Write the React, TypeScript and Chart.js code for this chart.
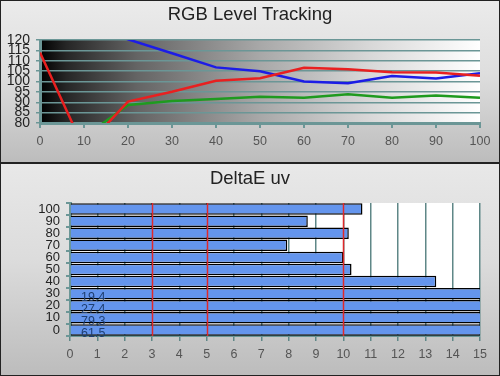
import React, { useEffect, useRef } from 'react';
import { Chart, registerables } from 'chart.js';

Chart.register(...registerables);

// ---------- data ----------
const levelSteps = [0, 10, 20, 30, 40, 50, 60, 70, 80, 90, 100];
const redLevels = [114, 67.7, 90.3, 95.1, 100.4, 101.6, 106.6, 105.9, 104.4, 104.3, 102.8];
const greenLevels = [66, 73.2, 88.7, 90.6, 91.6, 92.7, 92.2, 93.8, 92.2, 93.2, 92.2];
const blueLevels = [135, 130, 120.3, 113.6, 106.8, 104.9, 100, 99.2, 102.6, 101.5, 104];
const levelMin = 80;
const levelMax = 120;
const levelStep = 5;

const deltaCategories = ['0', '10', '20', '30', '40', '50', '60', '70', '80', '90', '100'];
const deltaValues = [61.5, 79.3, 27.4, 19.4, 13.4, 10.3, 10.0, 7.95, 10.2, 8.7, 10.7];
const deltaLimits = [3, 5, 10];
const deltaMin = 0;
const deltaMax = 15;

const FONT = "'Liberation Sans', Arial, Helvetica, sans-serif";
const TEAL = '#6b9696';

const levelBackground = {
  id: 'levelBackground',
  beforeDraw(chart: any) {
    const { ctx, chartArea: a } = chart;
    const g = ctx.createLinearGradient(a.left, 0, a.right, 0);
    g.addColorStop(0, '#000000');
    g.addColorStop(0.06, '#262626');
    g.addColorStop(0.22, '#646464');
    g.addColorStop(0.5, '#a8a8a8');
    g.addColorStop(0.75, '#d8d8d8');
    g.addColorStop(1, '#ffffff');
    ctx.save();
    ctx.fillStyle = g;
    ctx.fillRect(a.left, a.top, a.right - a.left, a.bottom - a.top);
    ctx.restore();
  },
};

const deltaBackground = {
  id: 'deltaBackground',
  beforeDraw(chart: any) {
    const { ctx, chartArea: a } = chart;
    ctx.save();
    ctx.fillStyle = '#ffffff';
    ctx.fillRect(a.left, a.top, a.right - a.left, a.bottom - a.top);
    ctx.restore();
  },
};

const deltaOverlay = {
  id: 'deltaOverlay',
  afterDatasetsDraw(chart: any) {
    const { ctx, chartArea: a, scales } = chart;
    const xs = scales.x;
    ctx.save();
    ctx.strokeStyle = '#e0282a';
    ctx.lineWidth = 1.5;
    deltaLimits.forEach((v) => {
      const px = Math.round(xs.getPixelForValue(v)) + 0.5;
      ctx.beginPath();
      ctx.moveTo(px, a.top);
      ctx.lineTo(px, a.bottom);
      ctx.stroke();
    });
    const meta = chart.getDatasetMeta(0);
    ctx.fillStyle = '#1f3f72';
    ctx.font = `12.5px ${FONT}`;
    ctx.textAlign = 'center';
    ctx.textBaseline = 'middle';
    deltaValues.forEach((v, i) => {
      if (v > deltaMax) {
        const bar = meta.data[i];
        ctx.fillText(v.toFixed(1), xs.getPixelForValue(0.85), bar.y + 3.5);
      }
    });
    ctx.restore();
  },
};

function LevelChart() {
  const ref = useRef<HTMLCanvasElement>(null);
  useEffect(() => {
    const mk = (vals: number[]) => levelSteps.map((x, i) => ({ x, y: vals[i] }));
    const chart = new Chart(ref.current!, {
      type: 'line',
      data: {
        datasets: [
          { data: mk(redLevels), borderColor: '#e82020', borderWidth: 2.5, pointRadius: 0, tension: 0 },
          { data: mk(greenLevels), borderColor: '#1f9a1f', borderWidth: 2.5, pointRadius: 0, tension: 0 },
          { data: mk(blueLevels), borderColor: '#1c1ce6', borderWidth: 2.5, pointRadius: 0, tension: 0 },
        ],
      },
      options: {
        responsive: false,
        animation: false,
        events: [],
        layout: { padding: { top: 40, right: 20, left: 0, bottom: 0 } },
        plugins: { legend: { display: false }, tooltip: { enabled: false }, title: { display: false } },
        scales: {
          x: {
            type: 'linear',
            min: 0,
            max: 100,
            afterFit: (s: any) => { s.height = 40; },
            ticks: { stepSize: 10, autoSkip: false, maxRotation: 0, color: '#555', font: { family: FONT, size: 12.5 }, padding: 6 },
            grid: { drawOnChartArea: false, drawTicks: true, tickLength: 5, color: TEAL, lineWidth: 2 },
            border: { display: true, color: TEAL, width: 3 },
          },
          y: {
            min: levelMin,
            max: levelMax,
            afterFit: (s: any) => { s.width = 40; },
            ticks: { stepSize: levelStep, autoSkip: false, color: '#222', font: { family: FONT, size: 14, lineHeight: 1 }, padding: 6 },
            grid: { drawOnChartArea: true, drawTicks: true, tickLength: 4, color: TEAL, lineWidth: 1.5 },
            border: { display: true, color: TEAL, width: 3 },
          },
        },
      },
      plugins: [levelBackground],
    } as any);
    return () => chart.destroy();
  }, []);
  return <canvas ref={ref} width={500} height={163} style={{ position: 'absolute', left: 0, top: 0 }} />;
}

function DeltaChart() {
  const ref = useRef<HTMLCanvasElement>(null);
  useEffect(() => {
    const chart = new Chart(ref.current!, {
      type: 'bar',
      data: {
        labels: deltaCategories,
        datasets: [
          {
            data: deltaValues,
            backgroundColor: '#6495ed',
            borderColor: '#000000',
            borderWidth: 1.5,
            barPercentage: 1,
            categoryPercentage: 0.95,
          },
        ],
      },
      options: {
        indexAxis: 'y',
        responsive: false,
        animation: false,
        events: [],
        layout: { padding: { top: 39, right: 20, left: 0, bottom: 0 } },
        plugins: { legend: { display: false }, tooltip: { enabled: false }, title: { display: false } },
        scales: {
          x: {
            min: deltaMin,
            max: deltaMax,
            afterFit: (s: any) => { s.height = 40; },
            ticks: { stepSize: 1, autoSkip: false, maxRotation: 0, color: '#555', font: { family: FONT, size: 12.5 }, padding: 6 },
            grid: { drawOnChartArea: true, drawTicks: true, tickLength: 5, color: '#5f8787', lineWidth: 1.5 },
            border: { display: true, color: TEAL, width: 2 },
          },
          y: {
            reverse: true,
            afterFit: (s: any) => { s.width = 70; },
            ticks: { autoSkip: false, color: '#222', font: { family: FONT, size: 13, lineHeight: 1 }, padding: 6 },
            grid: { drawOnChartArea: false, drawTicks: true, tickLength: 4, color: TEAL, lineWidth: 2, offset: true },
            border: { display: true, color: TEAL, width: 3 },
          },
        },
      },
      plugins: [deltaBackground, deltaOverlay],
    } as any);
    return () => chart.destroy();
  }, []);
  return <canvas ref={ref} width={500} height={212} style={{ position: 'absolute', left: 0, top: 0 }} />;
}

const titleStyle: React.CSSProperties = {
  position: 'absolute',
  left: 0,
  width: 500,
  textAlign: 'center',
  fontFamily: FONT,
  fontSize: 18.5,
  lineHeight: 1,
  color: '#222',
  top: 5,
};

export default function App() {
  return (
    <div style={{ position: 'fixed', left: 0, top: 0, width: 500, height: 376, overflow: 'hidden', background: '#ccc' }}>
      <div style={{ position: 'absolute', left: 0, top: 0, width: 500, height: 163, background: 'linear-gradient(to bottom, #ebebeb 0%, #dedede 45%, #bcbcbc 100%)' }}>
        <LevelChart />
        <div style={titleStyle}>RGB Level Tracking</div>
      </div>
      <div style={{ position: 'absolute', left: 0, top: 164, width: 500, height: 212, background: 'linear-gradient(to bottom, #e8e8e8 0%, #dcdcdc 45%, #bcbcbc 100%)' }}>
        <DeltaChart />
        <div style={titleStyle}>DeltaE uv</div>
      </div>
      <div style={{ position: 'absolute', left: 0, top: 162, width: 500, height: 2, background: '#222' }} />
      <div style={{ position: 'absolute', left: 0, top: 0, width: 500, height: 376, boxSizing: 'border-box', border: '1px solid #222', pointerEvents: 'none' }} />
    </div>
  );
}
